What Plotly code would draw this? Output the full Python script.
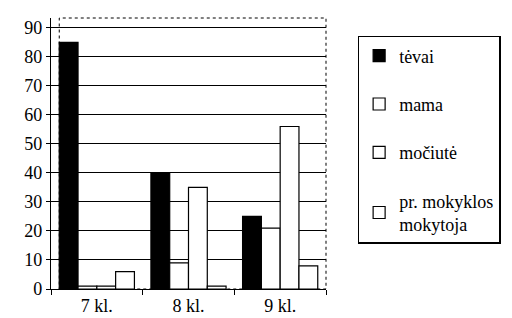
import plotly.graph_objects as go

categories = ["7 kl.", "8 kl.", "9 kl."]
series_names = ["tėvai", "mama", "močiutė", "pr. mokyklos<br>mokytoja"]
tevai = [85, 40, 25]
mama = [1, 9, 21]
mociute = [1, 35, 56]
mokytoja = [6, 1, 8]
y_ticks = [0, 10, 20, 30, 40, 50, 60, 70, 80, 90]

values = [tevai, mama, mociute, mokytoja]
fills = ["black", "white", "white", "white"]

SERIF = "Tinos, Times, serif"

fig = go.Figure()
for i, (name, vals, col) in enumerate(zip(series_names, values, fills)):
    fig.add_trace(go.Bar(
        x=categories, y=vals, name=name,
        marker=dict(color=col, line=dict(color="black", width=1.2)),
        legendgroup=f"g{i}",
    ))

fig.update_layout(
    width=512, height=318,
    margin=dict(l=43, r=194, t=10, b=37),
    paper_bgcolor="white", plot_bgcolor="white",
    barmode="group", bargap=0.18, bargroupgap=0.0,
    font=dict(family=SERIF, size=18, color="black"),
    showlegend=True,
    legend=dict(
        x=1.115, xanchor="left", y=0.934, yanchor="top",
        bordercolor="black", borderwidth=1.5, bgcolor="white",
        font=dict(family=SERIF, size=18, color="black"),
        tracegroupgap=22, itemwidth=30,
    ),
    xaxis=dict(
        showline=True, linecolor="black", linewidth=1.2,
        ticks="outside", tickson="boundaries", ticklen=5, tickcolor="black",
        showgrid=False,
        tickfont=dict(family=SERIF, size=18, color="black"),
    ),
    yaxis=dict(
        range=[0, 93.4], tickvals=y_ticks,
        showline=True, linecolor="black", linewidth=1.2,
        ticks="outside", ticklen=4, tickcolor="black",
        showgrid=True, gridcolor="black", gridwidth=1.2,
        zeroline=False,
        tickfont=dict(family=SERIF, size=18, color="black"),
    ),
    shapes=[
        dict(type="rect", xref="paper", yref="paper", x0=0.03, x1=1.0, y0=0.0, y1=1.0,
             line=dict(color="black", width=1, dash="dot"), layer="below"),
    ],
)

fig.write_html("out.html")
